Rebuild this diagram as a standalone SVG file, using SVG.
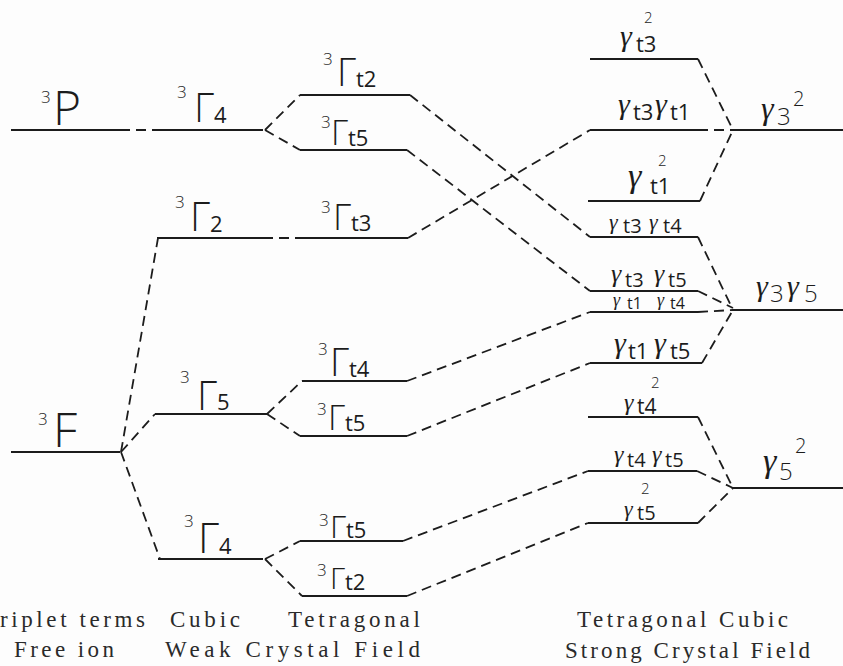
<svg xmlns="http://www.w3.org/2000/svg" width="843" height="666" viewBox="0 0 843 666">
<style>
.lv{stroke:#1c1c1c;stroke-width:2;fill:none}
.cn{stroke:#1c1c1c;stroke-width:1.8;fill:none;stroke-dasharray:10 6}
.hw{font-family:"Open Sans","DejaVu Sans",sans-serif;font-weight:300;fill:#1c1c1c}
.g{font-family:"Liberation Serif","DejaVu Serif",serif;font-style:italic;font-weight:400}
.s3{font-size:17px}
.sq{font-size:15px}
.sb{font-size:22px;font-weight:400}
.cap{font-family:"Liberation Serif","Times New Roman","DejaVu Serif",serif;font-size:23px;fill:#2a2a2a}
</style>
<rect width="843" height="666" fill="#fdfdfd"/>
<g id="connectors">
<line class="cn" x1="120" y1="130" x2="155" y2="130"/>
<line class="cn" x1="265" y1="130" x2="300" y2="95"/>
<line class="cn" x1="265" y1="130" x2="300" y2="150"/>
<line class="cn" x1="410" y1="95" x2="590" y2="237"/>
<line class="cn" x1="407" y1="150" x2="590" y2="291"/>
<line class="cn" x1="263" y1="238" x2="302" y2="238"/>
<line class="cn" x1="408" y1="238" x2="590" y2="130"/>
<line class="cn" x1="121" y1="452" x2="158" y2="238"/>
<line class="cn" x1="121" y1="452" x2="155" y2="414"/>
<line class="cn" x1="121" y1="452" x2="160" y2="559"/>
<line class="cn" x1="267" y1="414" x2="302" y2="381"/>
<line class="cn" x1="267" y1="414" x2="300" y2="436"/>
<line class="cn" x1="265" y1="559" x2="300" y2="541"/>
<line class="cn" x1="265" y1="559" x2="302" y2="596"/>
<line class="cn" x1="407" y1="381" x2="590" y2="312"/>
<line class="cn" x1="407" y1="436" x2="590" y2="363"/>
<line class="cn" x1="403" y1="541" x2="588" y2="471"/>
<line class="cn" x1="407" y1="596" x2="588" y2="523"/>
<line class="cn" x1="698" y1="59" x2="733" y2="130"/>
<line class="cn" x1="698" y1="130" x2="733" y2="130"/>
<line class="cn" x1="700" y1="201" x2="733" y2="130"/>
<line class="cn" x1="698" y1="237" x2="733" y2="310"/>
<line class="cn" x1="698" y1="291" x2="733" y2="308"/>
<line class="cn" x1="698" y1="312" x2="733" y2="310"/>
<line class="cn" x1="702" y1="363" x2="733" y2="310"/>
<line class="cn" x1="698" y1="417" x2="733" y2="488"/>
<line class="cn" x1="697" y1="471" x2="733" y2="488"/>
<line class="cn" x1="698" y1="523" x2="733" y2="488"/>
</g>
<g id="n-3P"><line class="lv" x1="11" y1="130" x2="120" y2="130"/>
<text class="hw"><tspan class="s3" x="41" y="103">3</tspan><tspan x="53" y="125" font-size="48">P</tspan></text></g>
<g id="n-3F"><line class="lv" x1="11" y1="452" x2="120" y2="452"/>
<text class="hw"><tspan class="s3" x="38" y="425">3</tspan><tspan x="53" y="447" font-size="48">F</tspan></text></g>
<g id="n-G4a"><line class="lv" x1="155" y1="130" x2="263" y2="130"/>
<text class="hw"><tspan class="s3" x="177" y="98">3</tspan><tspan x="194" y="122" font-size="40">Γ</tspan><tspan class="sb" x="214" y="123">4</tspan></text></g>
<g id="n-G2"><line class="lv" x1="157" y1="238" x2="263" y2="238"/>
<text class="hw"><tspan class="s3" x="175" y="208">3</tspan><tspan x="190" y="231" font-size="40">Γ</tspan><tspan class="sb" x="210" y="232">2</tspan></text></g>
<g id="n-G5"><line class="lv" x1="155" y1="414" x2="267" y2="414"/>
<text class="hw"><tspan class="s3" x="180" y="383">3</tspan><tspan x="197" y="410" font-size="40">Γ</tspan><tspan class="sb" x="217" y="410">5</tspan></text></g>
<g id="n-G4b"><line class="lv" x1="158" y1="559" x2="263" y2="559"/>
<text class="hw"><tspan class="s3" x="184" y="527">3</tspan><tspan x="198" y="553" font-size="42">Γ</tspan><tspan class="sb" x="219" y="554">4</tspan></text></g>
<g id="n-Gt2a"><line class="lv" x1="300" y1="95" x2="410" y2="95"/>
<text class="hw"><tspan class="s3" x="323" y="65">3</tspan><tspan x="337" y="86" font-size="38">Γ</tspan><tspan class="sb" x="356" y="87">t2</tspan></text></g>
<g id="n-Gt5a"><line class="lv" x1="300" y1="150" x2="407" y2="150"/>
<text class="hw"><tspan class="s3" x="321" y="128">3</tspan><tspan x="331" y="145" font-size="34">Γ</tspan><tspan class="sb" x="348" y="146" font-size="21">t5</tspan></text></g>
<g id="n-Gt3"><line class="lv" x1="302" y1="238" x2="408" y2="238"/>
<text class="hw"><tspan class="s3" x="321" y="213">3</tspan><tspan x="333" y="230" font-size="36">Γ</tspan><tspan class="sb" x="351" y="231" font-size="21">t3</tspan></text></g>
<g id="n-Gt4"><line class="lv" x1="302" y1="381" x2="407" y2="381"/>
<text class="hw"><tspan class="s3" x="318" y="355">3</tspan><tspan x="330" y="376" font-size="38">Γ</tspan><tspan class="sb" x="349" y="377">t4</tspan></text></g>
<g id="n-Gt5b"><line class="lv" x1="300" y1="436" x2="407" y2="436"/>
<text class="hw"><tspan class="s3" x="317" y="415">3</tspan><tspan x="328" y="430" font-size="34">Γ</tspan><tspan class="sb" x="345" y="431" font-size="21">t5</tspan></text></g>
<g id="n-Gt5c"><line class="lv" x1="300" y1="541" x2="403" y2="541"/>
<text class="hw"><tspan class="s3" x="319" y="526">3</tspan><tspan x="330" y="538" font-size="32">Γ</tspan><tspan class="sb" x="346" y="538" font-size="21">t5</tspan></text></g>
<g id="n-Gt2b"><line class="lv" x1="302" y1="596" x2="407" y2="596"/>
<text class="hw"><tspan class="s3" x="317" y="576">3</tspan><tspan x="330" y="589" font-size="30">Γ</tspan><tspan class="sb" x="345" y="590" font-size="21">t2</tspan></text></g>
<g id="n-gt3sq"><line class="lv" x1="590" y1="59" x2="698" y2="59"/>
<text class="hw"><tspan class="g" x="620" y="46" font-size="30">γ</tspan><tspan class="sq" x="644" y="23">2</tspan><tspan class="sb" x="636" y="52">t3</tspan></text></g>
<g id="n-gt3gt1"><line class="lv" x1="590" y1="130" x2="698" y2="130"/>
<text class="hw"><tspan class="g" x="618" y="114" font-size="30">γ</tspan><tspan class="sb" x="633" y="120">t3</tspan><tspan class="g" x="655" y="114" font-size="30">γ</tspan><tspan class="sb" x="670" y="120">t1</tspan></text></g>
<g id="n-gt1sq"><line class="lv" x1="588" y1="201" x2="700" y2="201"/>
<text class="hw"><tspan class="g" x="628" y="187" font-size="34" font-weight="700">γ</tspan><tspan class="sq" x="658" y="166">2</tspan><tspan class="sb" x="650" y="194">t1</tspan></text></g>
<g id="n-gt3gt4"><line class="lv" x1="590" y1="237" x2="698" y2="237"/>
<text class="hw"><tspan class="g" x="609" y="229" font-size="22">γ</tspan><tspan x="623" y="233" font-size="20" font-weight="400">t3</tspan><tspan class="g" x="649" y="229" font-size="22">γ</tspan><tspan x="663" y="233" font-size="20" font-weight="400">t4</tspan></text></g>
<g id="n-gt3gt5"><line class="lv" x1="590" y1="291" x2="698" y2="291"/>
<text class="hw"><tspan class="g" x="611" y="282" font-size="26">γ</tspan><tspan x="625" y="287" font-size="20" font-weight="400">t3</tspan><tspan class="g" x="654" y="282" font-size="26">γ</tspan><tspan x="668" y="287" font-size="20" font-weight="400">t5</tspan></text></g>
<g id="n-gt1gt4"><line class="lv" x1="590" y1="312" x2="698" y2="312"/>
<text class="hw"><tspan class="g" x="613" y="306" font-size="18">γ</tspan><tspan x="627" y="309" font-size="16" font-weight="400">t1</tspan><tspan class="g" x="657" y="306" font-size="18">γ</tspan><tspan x="670" y="309" font-size="16" font-weight="400">t4</tspan></text></g>
<g id="n-gt1gt5"><line class="lv" x1="590" y1="363" x2="702" y2="363"/>
<text class="hw"><tspan class="g" x="614" y="353" font-size="30">γ</tspan><tspan class="sb" x="628" y="359">t1</tspan><tspan class="g" x="654" y="353" font-size="30">γ</tspan><tspan class="sb" x="670" y="359">t5</tspan></text></g>
<g id="n-gt4sq"><line class="lv" x1="588" y1="417" x2="698" y2="417"/>
<text class="hw"><tspan class="g" x="624" y="410" font-size="24">γ</tspan><tspan class="sq" x="651" y="388">2</tspan><tspan x="637" y="414" font-size="21" font-weight="400">t4</tspan></text></g>
<g id="n-gt4gt5"><line class="lv" x1="588" y1="471" x2="697" y2="471"/>
<text class="hw"><tspan class="g" x="614" y="462" font-size="24">γ</tspan><tspan x="627" y="467" font-size="20" font-weight="400">t4</tspan><tspan class="g" x="652" y="462" font-size="24">γ</tspan><tspan x="665" y="467" font-size="20" font-weight="400">t5</tspan></text></g>
<g id="n-gt5sq"><line class="lv" x1="588" y1="523" x2="698" y2="523"/>
<text class="hw"><tspan class="g" x="624" y="516" font-size="22">γ</tspan><tspan class="sq" x="641" y="494">2</tspan><tspan x="637" y="520" font-size="20" font-weight="400">t5</tspan></text></g>
<g id="n-g3sq"><line class="lv" x1="733" y1="130" x2="843" y2="130"/>
<text class="hw"><tspan class="g" x="761" y="119" font-size="32">γ</tspan><tspan x="777" y="125" font-size="24">3</tspan><tspan x="793" y="106" font-size="20">2</tspan></text></g>
<g id="n-g3g5"><line class="lv" x1="733" y1="310" x2="843" y2="310"/>
<text class="hw"><tspan class="g" x="756" y="296" font-size="30">γ</tspan><tspan x="770" y="302" font-size="24">3</tspan><tspan class="g" x="787" y="296" font-size="30">γ</tspan><tspan x="804" y="302" font-size="24">5</tspan></text></g>
<g id="n-g5sq"><line class="lv" x1="733" y1="488" x2="843" y2="488"/>
<text class="hw"><tspan class="g" x="763" y="472" font-size="34">γ</tspan><tspan x="779" y="480" font-size="24">5</tspan><tspan x="795" y="453" font-size="20">2</tspan></text></g>
<g id="captions">
<text class="cap" x="0" y="627" textLength="145" lengthAdjust="spacing">riplet terms</text>
<text class="cap" x="170" y="627" textLength="70" lengthAdjust="spacing">Cubic</text>
<text class="cap" x="288" y="627" textLength="132" lengthAdjust="spacing">Tetragonal</text>
<text class="cap" x="14" y="657" textLength="100" lengthAdjust="spacing">Free ion</text>
<text class="cap" x="165" y="657" textLength="255" lengthAdjust="spacing">Weak Crystal Field</text>
<text class="cap" x="577" y="627" textLength="211" lengthAdjust="spacing">Tetragonal Cubic</text>
<text class="cap" x="565" y="658" textLength="245" lengthAdjust="spacing">Strong Crystal Field</text>
</g>
</svg>
